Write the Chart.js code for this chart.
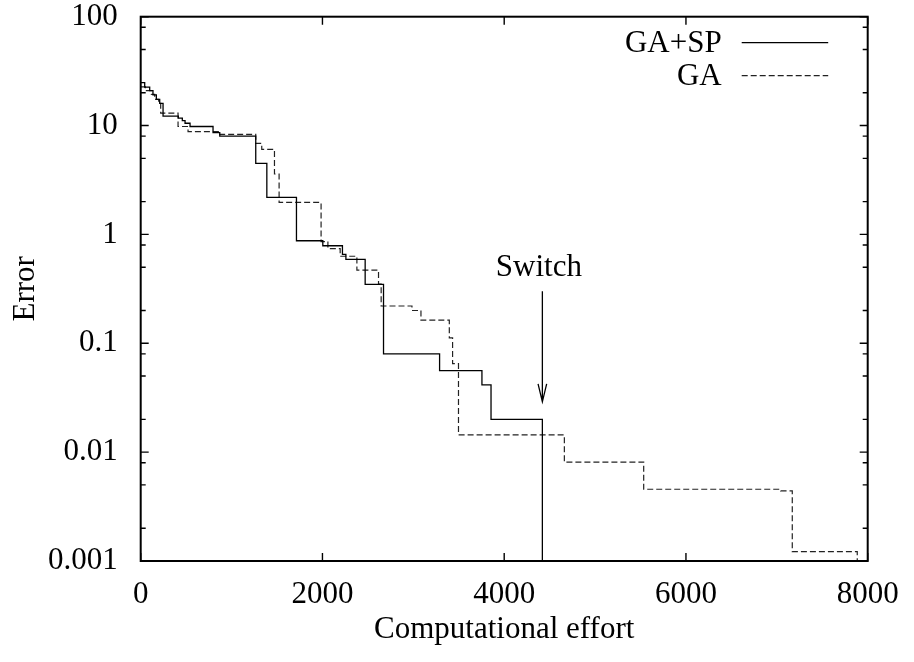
<!DOCTYPE html>
<html>
<head>
<meta charset="utf-8">
<title>Error vs computational effort</title>
<script src="https://cdn.jsdelivr.net/npm/chart.js@4/dist/chart.umd.min.js"></script>
<style>
  html, body { margin: 0; padding: 0; background: #fff; }
  #wrap { width: 914px; height: 662px; }
</style>
</head>
<body>
<div id="wrap"><canvas id="errorChart" width="914" height="662"></canvas></div>
<script>
// GA+SP (solid): x where the error drops, and the new error value
const spX = [0, 44, 99, 135, 172, 209, 246, 414, 458, 488, 543, 796, 870, 1266, 1388, 1714, 2004, 2220, 2258, 2470, 2672, 3289, 3755, 3855, 4420];
const spY = [24.8, 22.5, 20.9, 19.1, 17.4, 16.0, 12.2, 11.7, 11.1, 10.5, 9.8, 8.6, 8.0, 4.5, 2.19, 0.875, 0.787, 0.656, 0.59, 0.348, 0.080, 0.056, 0.0414, 0.020, 0.001];

// GA (dashed)
const gaX = [0, 51, 117, 154, 198, 220, 411, 521, 870, 1266, 1332, 1472, 1523, 1985, 2060, 2195, 2379, 2617, 2646, 2985, 3084, 3396, 3432, 3497, 4662, 5535, 7041, 7170, 7885];
const gaY = [22.7, 20.9, 19.3, 17.4, 16.0, 13.0, 9.8, 8.8, 8.3, 6.87, 6.05, 3.59, 1.97, 0.86, 0.74, 0.63, 0.47, 0.35, 0.22, 0.20, 0.163, 0.112, 0.065, 0.0144, 0.0081, 0.00456, 0.0044, 0.00122, 0.001];

const seriesNames = ['GA+SP', 'GA'];
const xTicks = [0, 2000, 4000, 6000, 8000];
const yTicks = [0.001, 0.01, 0.1, 1, 10, 100];
const yTickLabels = ['0.001', '0.01', '0.1', '1', '10', '100'];
const yMinorSteps = [2, 5, 8];

// annotation: "Switch" arrow
const switchX = 4420;
const switchArrowFrom = 0.3;
const switchArrowTo = 0.029;

const FONT = 'Liberation Serif, Times New Roman, serif';
const fontSize = 31;

function points(xs, ys) { return xs.map((x, i) => ({ x, y: ys[i] })); }

const framePlugin = {
  id: 'frame',
  afterDraw(chart) {
    const { ctx, chartArea: a, scales: { x, y } } = chart;
    ctx.save();
    ctx.strokeStyle = '#000';

    // inward ticks, mirrored on all sides
    ctx.lineWidth = 1.4;
    ctx.beginPath();
    xTicks.forEach((v) => {
      const px = x.getPixelForValue(v);
      ctx.moveTo(px, a.bottom); ctx.lineTo(px, a.bottom - 8);
      ctx.moveTo(px, a.top); ctx.lineTo(px, a.top + 8);
    });
    yTicks.forEach((v) => {
      const py = y.getPixelForValue(v);
      ctx.moveTo(a.left, py); ctx.lineTo(a.left + 8, py);
      ctx.moveTo(a.right, py); ctx.lineTo(a.right - 8, py);
      yMinorSteps.forEach((m) => {
        const mv = v * m;
        if (mv >= 100) return;
        const my = y.getPixelForValue(mv);
        ctx.moveTo(a.left, my); ctx.lineTo(a.left + 5, my);
        ctx.moveTo(a.right, my); ctx.lineTo(a.right - 5, my);
      });
    });
    ctx.stroke();

    // frame
    ctx.lineWidth = 2;
    ctx.strokeRect(a.left, a.top, a.right - a.left, a.bottom - a.top);

    // legend (text left of the line sample)
    ctx.font = `${fontSize}px ${FONT}`;
    ctx.fillStyle = '#000';
    ctx.textAlign = 'right';
    ctx.textBaseline = 'middle';
    chart.data.datasets.forEach((ds, i) => {
      const ly = a.top + 26 + i * 33;
      const lineEnd = a.right - 39.5;
      ctx.fillText(seriesNames[i], lineEnd - 106.5, ly + 1);
      ctx.beginPath();
      ctx.lineWidth = ds.borderWidth;
      ctx.strokeStyle = ds.borderColor;
      ctx.setLineDash(ds.borderDash || []);
      ctx.moveTo(lineEnd - 86.5, ly);
      ctx.lineTo(lineEnd, ly);
      ctx.stroke();
    });
    ctx.setLineDash([]);

    // Switch arrow
    const sx = x.getPixelForValue(switchX);
    const y0 = y.getPixelForValue(switchArrowFrom);
    const y1 = y.getPixelForValue(switchArrowTo);
    ctx.strokeStyle = '#000';
    ctx.lineWidth = 1.3;
    ctx.beginPath();
    ctx.moveTo(sx, y0); ctx.lineTo(sx, y1);
    ctx.moveTo(sx - 4.3, y1 - 18); ctx.lineTo(sx, y1); ctx.lineTo(sx + 4.3, y1 - 18);
    ctx.stroke();
    ctx.textAlign = 'center';
    ctx.textBaseline = 'alphabetic';
    ctx.fillText('Switch', sx - 3.5, y0 - 15);
    ctx.restore();
  },
};

new Chart(document.getElementById('errorChart'), {
  type: 'line',
  data: {
    datasets: [
      { label: seriesNames[0], data: points(spX, spY), stepped: true, borderColor: '#000', borderWidth: 1.3, pointRadius: 0, fill: false },
      { label: seriesNames[1], data: points(gaX, gaY), stepped: true, borderColor: '#222', borderWidth: 1.2, borderDash: [6, 3], pointRadius: 0, fill: false },
    ],
  },
  options: {
    responsive: false,
    animation: false,
    layout: { padding: { top: 16.7, right: 46.3, left: 0, bottom: 0 } },
    plugins: { legend: { display: false }, tooltip: { enabled: false } },
    scales: {
      x: {
        type: 'linear',
        min: 0,
        max: 8000,
        afterBuildTicks: (s) => { s.ticks = xTicks.map((v) => ({ value: v })); },
        afterFit: (s) => { s.height = 101; },
        // tick marks are drawn by the plugin; tickLength only spaces the labels
        grid: { display: false, drawTicks: true, tickLength: 18.5 },
        border: { display: false },
        ticks: { autoSkip: false, maxRotation: 0, padding: 0, color: '#000', font: { family: FONT, size: fontSize, lineHeight: 1 }, callback: (v) => String(v) },
        title: { display: true, text: 'Computational effort', color: '#000', font: { family: FONT, size: fontSize }, padding: { top: 0, bottom: 14 } },
      },
      y: {
        type: 'logarithmic',
        min: 0.001,
        max: 100,
        afterBuildTicks: (s) => { s.ticks = yTicks.map((v) => ({ value: v })); },
        afterFit: (s) => { s.width = 140.7; },
        grid: { display: false, drawTicks: true, tickLength: 23 },
        border: { display: false },
        ticks: { autoSkip: false, padding: 0, color: '#000', font: { family: FONT, size: fontSize, lineHeight: 1 }, callback: (v) => yTickLabels[yTicks.indexOf(v)] ?? '' },
        title: { display: true, text: 'Error', color: '#000', font: { family: FONT, size: fontSize }, padding: { top: 7.5, bottom: 0 } },
      },
    },
  },
  plugins: [framePlugin],
});
</script>
</body>
</html>
